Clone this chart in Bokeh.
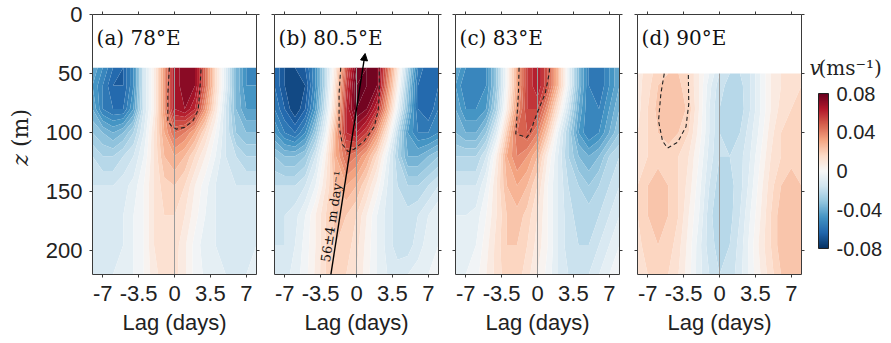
import math
import numpy as np
from bokeh.plotting import figure
from bokeh.layouts import row
from bokeh.models import (Range1d, LinearAxis, FixedTicker, CustomJSTickFormatter,
                          Label, Arrow, NormalHead, LinearColorMapper, Div)
from bokeh.core.properties import value, field
from bokeh.embed import file_html
from bokeh.resources import INLINE

# ---------------- data ----------------
lags = [-8, -7, -6, -5, -4, -3, -2, -1, 0, 1, 2, 3, 4, 5, 6, 7, 8]
depths_abc = [45, 60, 80, 100, 120, 145, 170, 195, 220]
depths_d = [50, 60, 80, 100, 120, 145, 170, 195, 220]

# meridional velocity, cm/s (rows = depths, columns = lags)
v_a = [
    [-4.0, -5.0, -6.0, -6.5, -5.0, -1.5, 0.5, 3.5, 6.5, 7.5, 7.0, 4.5, 1.5, -1.0, -3.5, -5.0, -5.0],
    [-4.5, -5.5, -6.5, -6.5, -5.0, -1.5, 0.5, 3.5, 6.5, 7.5, 7.0, 4.5, 1.5, -1.0, -3.5, -5.0, -5.0],
    [-4.0, -5.5, -6.0, -6.0, -4.5, -1.5, 0.5, 3.5, 6.5, 7.0, 6.0, 3.5, 1.0, -1.5, -3.5, -4.5, -4.5],
    [-3.0, -3.5, -4.0, -3.5, -2.5, -1.0, 1.0, 3.0, 4.5, 4.0, 3.0, 1.5, 0.0, -1.5, -3.0, -3.5, -3.5],
    [-2.0, -2.5, -2.5, -2.0, -1.5, -0.5, 1.0, 2.5, 3.0, 2.5, 1.5, 0.5, -0.5, -1.5, -2.0, -2.5, -2.5],
    [-1.5, -1.5, -1.5, -1.2, -0.8, 0.0, 1.0, 1.8, 2.0, 1.5, 0.5, -0.3, -1.0, -1.3, -1.5, -1.5, -1.5],
    [-1.2, -1.2, -1.2, -1.0, -0.5, 0.0, 1.0, 1.5, 1.5, 1.0, 0.2, -0.5, -1.0, -1.2, -1.2, -1.2, -1.2],
    [-1.5, -1.2, -1.2, -1.0, -0.5, 0.0, 1.0, 1.5, 1.3, 0.6, -0.2, -0.8, -1.0, -1.2, -1.5, -1.3, -1.0],
    [-1.2, -1.0, -1.0, -0.8, -0.5, 0.0, 0.8, 1.3, 1.2, 0.6, -0.2, -0.6, -0.8, -1.0, -1.2, -1.0, -1.0],
]
v_b = [
    [-6.0, -7.0, -7.0, -6.5, -5.0, -2.0, 1.0, 5.0, 7.5, 8.0, 7.5, 4.5, 1.0, -2.5, -5.5, -6.5, -6.0],
    [-6.0, -7.0, -7.5, -7.0, -5.0, -2.0, 1.5, 5.5, 8.0, 8.0, 7.5, 4.0, 0.5, -3.0, -6.0, -6.5, -6.0],
    [-5.5, -6.5, -7.5, -6.5, -4.5, -1.5, 2.0, 6.0, 8.0, 7.5, 6.0, 3.0, -0.5, -3.5, -6.0, -6.5, -5.5],
    [-4.5, -5.5, -6.0, -5.0, -3.0, -0.5, 3.0, 6.0, 6.5, 5.5, 3.5, 1.0, -2.0, -4.5, -5.5, -5.5, -5.0],
    [-3.0, -3.5, -3.5, -3.0, -1.5, 0.5, 3.0, 4.5, 4.0, 3.0, 1.5, -0.5, -2.5, -4.0, -4.0, -3.5, -3.0],
    [-2.0, -2.0, -2.0, -1.5, -0.5, 1.0, 2.5, 3.0, 2.5, 1.5, 0.3, -1.0, -2.0, -2.5, -2.5, -2.0, -1.5],
    [-1.5, -1.5, -1.2, -0.5, 0.5, 1.5, 2.2, 2.0, 1.5, 0.5, -0.5, -1.2, -1.8, -1.8, -1.5, -1.0, -0.5],
    [-1.5, -1.5, -1.0, -0.3, 0.5, 1.5, 2.0, 1.8, 1.2, 0.3, -0.5, -1.2, -1.8, -1.8, -1.2, -0.8, -0.5],
    [-1.2, -1.2, -0.8, -0.2, 0.6, 1.5, 1.8, 1.5, 1.0, 0.2, -0.5, -1.0, -1.2, -1.0, -0.8, -0.5, -0.3],
]
v_c = [
    [-4.0, -5.0, -5.5, -5.0, -3.0, 0.0, 3.0, 5.5, 6.5, 5.0, 2.5, -0.5, -3.5, -5.5, -6.0, -5.0, -4.0],
    [-4.5, -5.5, -5.5, -5.0, -3.0, 0.0, 3.0, 5.5, 6.5, 5.0, 2.5, -0.5, -3.5, -5.5, -6.0, -5.0, -4.0],
    [-4.0, -5.0, -5.0, -4.5, -2.5, 0.5, 3.5, 5.5, 5.5, 3.5, 1.0, -1.5, -4.0, -5.5, -5.5, -4.5, -3.5],
    [-3.5, -4.0, -4.0, -3.0, -1.0, 2.0, 4.5, 5.0, 4.0, 2.0, -0.5, -2.5, -4.5, -5.5, -5.0, -4.0, -3.0],
    [-2.5, -2.5, -2.5, -1.5, 0.5, 3.0, 4.0, 3.5, 2.5, 0.5, -1.0, -2.5, -3.5, -4.0, -3.5, -2.5, -2.0],
    [-1.5, -1.5, -1.5, -0.5, 1.0, 2.5, 3.0, 2.5, 1.5, 0.0, -1.0, -2.0, -2.5, -3.0, -2.5, -2.0, -1.5],
    [-1.0, -1.0, -0.8, 0.0, 1.0, 2.0, 2.3, 1.8, 1.0, 0.0, -1.0, -1.8, -2.2, -2.2, -2.0, -1.5, -1.0],
    [-0.8, -0.8, -0.5, 0.3, 1.2, 2.0, 2.0, 1.5, 0.8, 0.0, -1.0, -1.8, -2.0, -2.0, -1.5, -1.0, -0.5],
    [-0.5, -0.5, -0.2, 0.5, 1.2, 1.8, 1.8, 1.2, 0.5, -0.2, -1.0, -1.5, -1.5, -1.5, -1.0, -0.5, -0.2],
]
v_d = [
    [0.8, 1.2, 1.8, 2.0, 2.0, 1.5, 0.5, -0.5, -1.5, -2.0, -2.0, -1.5, -0.5, 0.5, 1.0, 1.2, 1.5],
    [0.8, 1.3, 2.0, 2.2, 2.2, 1.5, 0.5, -0.8, -1.8, -2.2, -2.2, -1.5, -0.5, 0.5, 1.0, 1.3, 1.5],
    [0.8, 1.5, 2.2, 2.5, 2.5, 1.8, 0.5, -1.0, -2.0, -2.5, -2.3, -1.5, -0.5, 0.5, 1.2, 1.5, 1.8],
    [1.0, 1.5, 2.0, 2.2, 2.0, 1.5, 0.3, -1.0, -2.0, -2.2, -2.0, -1.2, -0.3, 0.8, 1.5, 1.8, 2.0],
    [1.2, 1.5, 1.8, 1.8, 1.5, 1.0, 0.0, -1.2, -2.0, -2.0, -1.7, -1.0, 0.0, 1.0, 1.5, 1.8, 1.8],
    [1.5, 2.0, 2.3, 2.0, 1.5, 0.8, -0.3, -1.5, -2.3, -2.2, -1.7, -0.8, 0.3, 1.3, 2.0, 2.3, 2.0],
    [1.5, 2.0, 2.3, 2.0, 1.5, 0.5, -0.5, -1.8, -2.5, -2.2, -1.5, -0.5, 0.5, 1.5, 2.3, 2.5, 2.3],
    [1.3, 1.8, 2.0, 1.8, 1.2, 0.3, -0.8, -1.8, -2.2, -2.0, -1.3, -0.3, 0.7, 1.5, 2.3, 2.5, 2.2],
    [1.0, 1.5, 1.8, 1.5, 1.0, 0.2, -0.8, -1.5, -2.0, -1.8, -1.2, -0.3, 0.5, 1.3, 2.0, 2.2, 2.0],
]

# dashed (significance) contours: lag (days), depth (m)
dash_a_lag = [-0.5, -0.65, -0.65, -0.33, 0.16, 0.98, 1.8, 2.3, 2.45, 2.6]
dash_a_z = [45, 67, 90, 94, 97, 95.5, 90, 81, 67, 45]
dash_b_lag = [-1.54, -1.7, -1.7, -1.37, -0.82, -0.23, 0.75, 1.73, 2.12, 2.22, 2.22]
dash_b_z = [45, 67, 95, 110, 116, 114, 107, 95, 81, 67, 45]
dash_c_lag = [-1.8, -1.86, -2.03, -2.12, -1.05, -0.72, -0.07, 0.75, 1.14, 1.18]
dash_c_z = [45, 67, 90, 101, 104, 100, 84, 67, 50, 45]
dash_d_lag = [-5.39, -5.72, -5.95, -5.56, -5.07, -4.08, -3.27, -3.0, -3.04]
dash_d_z = [50, 67, 90, 107, 113, 108, 95, 76, 50]

titles = ["(a) 78°E", "(b) 80.5°E", "(c) 83°E", "(d) 90°E"]
x_ticks = [-7, -3.5, 0, 3.5, 7]
x_tick_labels = ["-7", "-3.5", "0", "3.5", "7"]
y_ticks = [0, 50, 100, 150, 200]
y_tick_labels = ["0", "50", "100", "150", "200"]
cbar_ticks = [-0.08, -0.04, 0, 0.04, 0.08]
cbar_tick_labels = ["-0.08", "-0.04", "0", "0.04", "0.08"]

# propagation arrow in panel (b)
arrow_speed = 56      # m/day
arrow_err = 4
arrow_lag_bottom = -2.5
arrow_z_bottom = 220
arrow_z_top = 33
lag_zero = 0

# ---------------- styling ----------------
RDBU = ['#053061', '#2166ac', '#4393c3', '#92c5de', '#d1e5f0', '#f7f7f7',
        '#fddbc7', '#f4a582', '#d6604d', '#b2182b', '#67001f']
_rgb = np.array([[int(c[i:i + 2], 16) for i in (1, 3, 5)] for c in RDBU], float)
_pos = np.linspace(0, 1, len(RDBU))


def cmap(t):
    t = min(max(t, 0.0), 1.0)
    return '#%02x%02x%02x' % tuple(int(round(np.interp(t, _pos, _rgb[:, k]))) for k in range(3))


VMAX = 0.08
levels = np.linspace(-0.1, 0.1, 41)
mids = 0.5 * (levels[:-1] + levels[1:])
band_colors = [cmap((m + VMAX) / (2 * VMAX)) for m in mids]
pal256 = [cmap(t) for t in np.linspace(0, 1, 256)]

AX_COL = "#3a3a3a"
TXT_COL = "#222222"
SANS = "Liberation Sans"
SERIF = "DejaVu Serif"
FRAME_W, FRAME_H = 164, 260
BORDER_TOP, BORDER_BOTTOM = 14, 66
X_LO, X_HI = -8, 8
Z_TOP, Z_BOT = 0, 220
YLAB_W = 42
borders_left = [49, 9, 8, 9]
borders_right = [9, 9, 9, 8]
CB_W = 80
px_per_lag = FRAME_W / (X_HI - X_LO)
px_per_m = FRAME_H / (Z_BOT - Z_TOP)


def label_formatter(tv, tl):
    return CustomJSTickFormatter(args=dict(tv=tv, tl=tl),
                                 code="const i = tv.indexOf(tick); return i >= 0 ? tl[i] : '';")


def blank_formatter():
    return CustomJSTickFormatter(code="return '';")


def style_axis(ax, labelled):
    ax.axis_line_color = AX_COL
    ax.major_tick_line_color = AX_COL
    ax.major_tick_out = 3
    ax.major_tick_in = 0
    ax.minor_tick_out = 0
    ax.minor_tick_in = 0
    if labelled:
        ax.major_label_text_font = SANS
        ax.major_label_text_font_size = "22px"
        ax.major_label_text_color = TXT_COL
    else:
        ax.major_label_text_font_size = "0px"
        ax.major_label_standoff = 0


def make_panel(i, v_cms, depths, dash_lag, dash_z):
    p = figure(x_range=Range1d(X_LO, X_HI), y_range=Range1d(Z_BOT, Z_TOP),
               frame_width=FRAME_W, frame_height=FRAME_H,
               min_border_left=borders_left[i], min_border_right=borders_right[i],
               min_border_top=BORDER_TOP, min_border_bottom=BORDER_BOTTOM,
               x_axis_location=None, y_axis_location=None,
               output_backend="svg", toolbar_location=None)
    p.outline_line_color = None
    p.background_fill_color = "white"
    for g in p.grid:
        g.visible = False

    bx = LinearAxis(ticker=FixedTicker(ticks=x_ticks), formatter=label_formatter(x_ticks, x_tick_labels))
    style_axis(bx, True)
    bx.major_label_standoff = 8
    bx.axis_label = "Lag (days)"
    bx.axis_label_text_font = SANS
    bx.axis_label_text_font_size = "22px"
    bx.axis_label_text_font_style = "normal"
    bx.axis_label_text_color = TXT_COL
    bx.axis_label_standoff = 6
    p.add_layout(bx, "below")
    tx = LinearAxis(ticker=FixedTicker(ticks=x_ticks), formatter=blank_formatter())
    style_axis(tx, False)
    p.add_layout(tx, "above")
    ly = LinearAxis(ticker=FixedTicker(ticks=y_ticks),
                    formatter=label_formatter(y_ticks, y_tick_labels) if i == 0 else blank_formatter())
    style_axis(ly, i == 0)
    if i == 0:
        ly.major_label_standoff = 7
    p.add_layout(ly, "left")
    ry = LinearAxis(ticker=FixedTicker(ticks=y_ticks), formatter=blank_formatter())
    style_axis(ry, False)
    p.add_layout(ry, "right")

    z = np.array(v_cms, dtype=float) / 100.0
    r = p.contour(x=lags, y=depths, z=z, levels=levels, fill_color=band_colors, line_color=None)
    fr = r.fill_renderer
    if "fill_color" in fr.data_source.data:
        fr.glyph.line_color = field("fill_color")
        fr.glyph.line_width = 0.7

    p.line(x=[lag_zero, lag_zero], y=[depths[0], depths[-1]], line_color="#9a9a9a", line_width=1)
    p.line(x=dash_lag, y=dash_z, line_color="#222222", line_width=1.1, line_dash="4 3")

    p.add_layout(Label(x=X_LO + 0.4, y=19.5, text=titles[i], text_font=SERIF,
                       text_font_size="20px", text_baseline="middle", text_align="left",
                       text_color="#111111"))
    return p


panels = [
    make_panel(0, v_a, depths_abc, dash_a_lag, dash_a_z),
    make_panel(1, v_b, depths_abc, dash_b_lag, dash_b_z),
    make_panel(2, v_c, depths_abc, dash_c_lag, dash_c_z),
    make_panel(3, v_d, depths_d, dash_d_lag, dash_d_z),
]

# y label "z (m)" as rotated HTML text left of panel (a)
ylab = Div(width=YLAB_W, height=BORDER_TOP + FRAME_H + BORDER_BOTTOM, margin=0,
           text=(f'<div style="margin:0;padding:{BORDER_TOP}px 0 0 8px;height:{FRAME_H}px;width:{YLAB_W - 8}px;'
                 'display:flex;align-items:center;justify-content:center;">'
                 f'<span style="writing-mode:vertical-rl;transform:rotate(180deg);'
                 f'font-family:\'{SERIF}\';font-size:22px;color:{TXT_COL};white-space:nowrap;">'
                 '<i>z</i> (m)</span></div>'))

# propagation arrow and its speed label in panel (b)
pb = panels[1]
x_end = arrow_lag_bottom + (arrow_z_bottom - arrow_z_top) / arrow_speed
pb.add_layout(Arrow(x_start=arrow_lag_bottom, y_start=arrow_z_bottom, x_end=x_end, y_end=arrow_z_top,
                    line_color="black", line_width=1.4,
                    end=NormalHead(size=7, fill_color="black", line_color="black", line_width=1)))
ang = math.atan2((arrow_z_bottom - arrow_z_top) * px_per_m, (x_end - arrow_lag_bottom) * px_per_lag)
z_txt = 172
lag_txt = arrow_lag_bottom + (arrow_z_bottom - z_txt) / arrow_speed
pb.add_layout(Label(x=lag_txt, y=z_txt, text=f"{arrow_speed}±{arrow_err} m day⁻¹", text_font=SERIF,
                    text_font_size="13px", angle=ang, text_align="center", text_baseline="bottom",
                    text_color="#111111"))

# ---------------- colorbar (drawn inside its own frame) ----------------
cb_px = 155 / (2 * VMAX)                      # pixels per m/s on the bar
cb_lo = -VMAX - 26 / cb_px
cb_hi = VMAX + 79 / cb_px
cb = figure(x_range=Range1d(0, CB_W), y_range=Range1d(cb_lo, cb_hi),
            frame_width=CB_W, frame_height=FRAME_H,
            min_border_left=0, min_border_right=0,
            min_border_top=BORDER_TOP, min_border_bottom=BORDER_BOTTOM,
            x_axis_location=None, y_axis_location=None,
            output_backend="svg", toolbar_location=None)
cb.outline_line_color = None
for g in cb.grid:
    g.visible = False
bar_x0, bar_w = 9, 10
grad = np.linspace(-VMAX, VMAX, 256).reshape(256, 1)
cb.image(image=[grad], x=bar_x0, y=-VMAX, dw=bar_w, dh=2 * VMAX,
         color_mapper=LinearColorMapper(palette=pal256, low=-VMAX, high=VMAX))
cb.quad(left=bar_x0, right=bar_x0 + bar_w, bottom=-VMAX, top=VMAX,
        fill_color=None, line_color="#222222", line_width=1)
cb.text(x=[bar_x0 + bar_w + 8] * len(cbar_ticks), y=cbar_ticks, text=cbar_tick_labels,
        text_font=value(SANS), text_font_size=value("20px"), text_color=TXT_COL,
        text_baseline="middle", text_align="left")
y_cbl = VMAX + 26 / cb_px
cb.add_layout(Label(x=0, y=y_cbl, text="v", text_font=SERIF, text_font_style="italic",
                    text_font_size="20px", text_align="left", text_baseline="middle",
                    text_color=TXT_COL))
cb.add_layout(Label(x=bar_x0, y=y_cbl, text="(ms⁻¹)", text_font=SERIF,
                    text_font_size="20px", text_align="left", text_baseline="middle",
                    text_color=TXT_COL))

layout = row(ylab, *panels, cb, spacing=0)
open("out.html", "w").write(file_html(layout, INLINE))
